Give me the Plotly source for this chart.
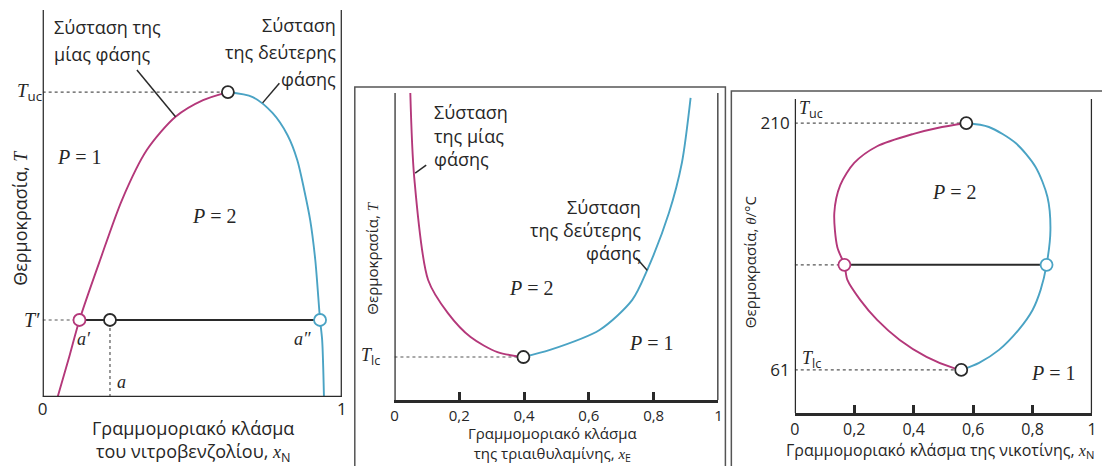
import plotly.graph_objects as go

W, H = 1102, 466

# ---- panel 1: nitrobenzene / hexane (upper critical temperature) ----
p1_liq1_x = [0.05, 0.086, 0.123, 0.192, 0.265, 0.348, 0.444, 0.536, 0.619]
p1_liq1_t = [0.0, 0.096, 0.199, 0.354, 0.509, 0.638, 0.724, 0.767, 0.788]
p1_liq2_x = [0.619, 0.702, 0.768, 0.818, 0.851, 0.874, 0.894, 0.911, 0.927, 0.934, 0.940]
p1_liq2_t = [0.788, 0.775, 0.734, 0.677, 0.612, 0.535, 0.457, 0.354, 0.199, 0.147, 0.0]
p1_crit = (0.619, 0.788)
p1_T_prime = 0.199
p1_a1, p1_a, p1_a2 = 0.123, 0.225, 0.927

# ---- panel 2: water / triethylamine (lower critical temperature) ----
p2_liq1_x = [0.049, 0.061, 0.104, 0.165, 0.235, 0.318, 0.398]
p2_liq1_t = [1.0, 0.726, 0.391, 0.283, 0.205, 0.156, 0.14]
p2_liq2_x = [0.398, 0.48, 0.633, 0.734, 0.78, 0.847, 0.887, 0.914]
p2_liq2_t = [0.14, 0.163, 0.228, 0.326, 0.423, 0.609, 0.772, 0.984]
p2_crit = (0.398, 0.14)
p2_ticks = [0, 0.2, 0.4, 0.6, 0.8, 1]
p2_ticktext = ["0", "0,2", "0,4", "0,6", "0,8", "1"]

# ---- panel 3: water / nicotine (closed miscibility loop) ----
p3_liq1_x = [0.577, 0.48, 0.40, 0.277, 0.2, 0.153, 0.133, 0.143, 0.167, 0.177,
             0.22, 0.277, 0.353, 0.443, 0.533, 0.56]
p3_liq1_t = [210, 207.0, 203.5, 196.0, 185.9, 172.5, 155.7, 135.2, 124.4, 115.3,
             103.3, 91.2, 79.1, 68.9, 62.2, 61]
p3_liq2_x = [0.577, 0.653, 0.743, 0.81, 0.85, 0.86, 0.847, 0.827, 0.8, 0.753,
             0.687, 0.62, 0.56]
p3_liq2_t = [210, 207.6, 197.9, 183.5, 165.4, 145.5, 124.4, 109.3, 97.2, 85.2,
             73.1, 65.3, 61]
p3_upper = (0.577, 210)
p3_lower = (0.56, 61)
p3_tie_t = 124.4
p3_tie_x = (0.167, 0.847)
p3_yticks = [61, 210]
p3_ticks = [0, 0.2, 0.4, 0.6, 0.8, 1]
p3_ticktext = ["0", "0,2", "0,4", "0,6", "0,8", "1"]

MAG = "#b4387a"
BLU = "#4aa3c4"
DARK = "#2a2a2a"
TXT = "#262626"
SANS = "Open Sans"
SERIF = "Liberation Serif"


def px(x):
    return x / W


def py(y):
    return 1 - y / H


fig = go.Figure()


def curve(x, y, color, ax):
    fig.add_trace(go.Scatter(x=x, y=y, mode="lines",
                             line=dict(color=color, width=1.9, shape="spline", smoothing=0.8),
                             xaxis=ax[0], yaxis=ax[1], hoverinfo="skip"))


def seg(x, y, ax, dash="solid", color=DARK, width=2):
    fig.add_trace(go.Scatter(x=x, y=y, mode="lines", line=dict(color=color, width=width, dash=dash),
                             xaxis=ax[0], yaxis=ax[1], hoverinfo="skip"))


def ring(x, y, color, ax):
    fig.add_trace(go.Scatter(x=[x], y=[y], mode="markers",
                             marker=dict(size=12, color="white", line=dict(color=color, width=1.8)),
                             xaxis=ax[0], yaxis=ax[1], hoverinfo="skip"))


A1, A2, A3 = ("x", "y"), ("x2", "y2"), ("x3", "y3")

# panel 1
seg([0, p1_crit[0]], [p1_crit[1]] * 2, A1, dash="dot", color="#555", width=1.2)
seg([0, p1_a1], [p1_T_prime] * 2, A1, dash="dot", color="#555", width=1.2)
seg([p1_a, p1_a], [0, p1_T_prime], A1, dash="dot", color="#555", width=1.2)
seg([p1_a1, p1_a2], [p1_T_prime] * 2, A1)
curve(p1_liq1_x, p1_liq1_t, MAG, A1)
curve(p1_liq2_x, p1_liq2_t, BLU, A1)
seg([0.315, 0.444], [0.845, 0.724], A1, width=1.5)
seg([0.791, 0.735], [0.811, 0.760], A1, width=1.5)
ring(p1_a1, p1_T_prime, MAG, A1)
ring(p1_a, p1_T_prime, DARK, A1)
ring(p1_a2, p1_T_prime, BLU, A1)
ring(p1_crit[0], p1_crit[1], DARK, A1)
for xv in (0, 1):
    seg([xv, xv], [0, 1], A1, width=2.5)
seg([0, 1], [0, 0], A1, width=2.5)

# panel 2
seg([0, p2_crit[0]], [p2_crit[1]] * 2, A2, dash="dot", color="#555", width=1.2)
curve(p2_liq1_x, p2_liq1_t, MAG, A2)
curve(p2_liq2_x, p2_liq2_t, BLU, A2)
seg([0.064, 0.098], [0.739, 0.765], A2, width=1.5)
seg([0.746, 0.78], [0.463, 0.423], A2, width=1.5)
ring(p2_crit[0], p2_crit[1], DARK, A2)
for xv in (0, 1):
    seg([xv, xv], [0, 1], A2, width=2.5)

# panel 3
seg([0, p3_upper[0]], [p3_upper[1]] * 2, A3, dash="dot", color="#555", width=1.2)
seg([0, p3_lower[0]], [p3_lower[1]] * 2, A3, dash="dot", color="#555", width=1.2)
seg([0, p3_tie_x[0]], [p3_tie_t] * 2, A3, dash="dot", color="#555", width=1.2)
seg(list(p3_tie_x), [p3_tie_t] * 2, A3)
curve(p3_liq1_x, p3_liq1_t, MAG, A3)
curve(p3_liq2_x, p3_liq2_t, BLU, A3)
ring(p3_upper[0], p3_upper[1], DARK, A3)
ring(p3_lower[0], p3_lower[1], DARK, A3)
ring(p3_tie_x[0], p3_tie_t, MAG, A3)
ring(p3_tie_x[1], p3_tie_t, BLU, A3)
for xv in (0, 1):
    seg([xv, xv], [35, 224.5], A3, width=2.5)

# frames around panels 2 and 3
shapes = [
    dict(type="rect", xref="paper", yref="paper", x0=px(353), x1=px(727), y0=py(475), y1=py(87),
         line=dict(color="#555", width=1.5)),
    dict(type="rect", xref="paper", yref="paper", x0=px(733), x1=px(1110), y0=py(475), y1=py(91),
         line=dict(color="#555", width=1.5)),
]

ann = []


def text(x, y, s, size=18, anchor="center", family=SANS, angle=0, ref=("paper", "paper"), valign="middle"):
    if ref == ("paper", "paper"):
        x, y = px(x), py(y)
    ann.append(dict(x=x, y=y, xref=ref[0], yref=ref[1], text=s, showarrow=False,
                    xanchor=anchor, yanchor=valign, textangle=angle, borderpad=0,
                    font=dict(family=family, size=size, color=TXT)))


def it(s):
    return f"<span style='font-family:{SERIF}'><i>{s}</i></span>"


def sub(s):
    return f"<sub><span style='font-family:{SANS}'>{s}</span></sub>"


# panel 1 texts
text(48, 27, "Σύσταση της", anchor="left")
text(48, 54, "μίας φάσης", anchor="left")
text(335, 25, "Σύσταση", anchor="right")
text(335, 52, "της δεύτερης", anchor="right")
text(335, 79, "φάσης", anchor="right")
text(75, 157, it("P") + " = 1", size=20, family=SERIF)
text(211, 216, it("P") + " = 2", size=20, family=SERIF)
text(25, 92, it("T") + sub("uc"), size=19, family=SERIF)
text(27, 320, it("T′"), size=20, family=SERIF)
text(0.139, 0.15, it("a′"), size=18, family=SERIF, ref=("x", "y"))
text(0.868, 0.15, it("a″"), size=18, family=SERIF, ref=("x", "y"))
text(0.262, 0.04, it("a"), size=18, family=SERIF, ref=("x", "y"))
text(15, 218, "Θερμοκρασία, " + it("T"), size=18, angle=-90)
text(190, 428, "Γραμμομοριακό κλάσμα", size=18)
text(190, 452, "του νιτροβενζολίου, " + it("x") + sub("N"), size=18)

# panel 2 texts
text(432, 112, "Σύσταση", size=18, anchor="left")
text(432, 136, "της μίας", size=18, anchor="left")
text(432, 159, "φάσης", size=18, anchor="left")
text(643, 207, "Σύσταση", size=18, anchor="right")
text(643, 230, "της δεύτερης", size=18, anchor="right")
text(643, 253, "φάσης", size=18, anchor="right")
text(531, 288, it("P") + " = 2", size=20, family=SERIF)
text(652, 343, it("P") + " = 1", size=20, family=SERIF)
text(369, 357, it("T") + sub("lc"), size=18, family=SERIF)
text(370, 258, "Θερμοκρασία, " + it("T"), size=15, angle=-90)
text(553, 466, "Γραμμομοριακό κλάσμα<br>της τριαιθυλαμίνης, " + it("x") + sub("E"),
     size=15, valign="bottom")

# panel 3 texts
text(800, 110, it("T") + sub("uc"), size=18, family=SERIF, anchor="left")
text(803, 360, it("T") + sub("lc"), size=18, family=SERIF, anchor="left")
text(958, 192, it("P") + " = 2", size=20, family=SERIF)
text(1058, 373, it("P") + " = 1", size=20, family=SERIF)
text(752, 262, "Θερμοκρασία, " + it("θ") + "/°C", size=15, angle=-90)
text(787, 450, "Γραμμομοριακό κλάσμα της νικοτίνης, " + it("x") + sub("N"), size=16, anchor="left")

axis_common = dict(showgrid=False, zeroline=False, showline=False,
                   tickfont=dict(family=SANS, size=17, color=TXT))
small_ticks = dict(family=SANS, size=16, color=TXT)
p2_tickfont = dict(family=SANS, size=15, color=TXT)

fig.update_layout(
    width=W, height=H, margin=dict(l=0, r=0, t=0, b=0),
    paper_bgcolor="white", plot_bgcolor="rgba(0,0,0,0)", showlegend=False,
    shapes=shapes, annotations=ann,
    xaxis=dict(domain=[px(38), px(340)], range=[0, 1], tickvals=[0, 1], ticktext=["0", "1"],
               ticks="", anchor="y", **axis_common),
    yaxis=dict(domain=[py(397), py(10)], range=[0, 1], showticklabels=False, ticks="",
               anchor="x", **axis_common),
    xaxis2=dict(domain=[px(393), px(720)], range=[0, 1], tickvals=p2_ticks, ticktext=p2_ticktext,
                ticks="inside", ticklen=8, tickwidth=2.5, tickcolor=DARK, anchor="y2",
                **{**axis_common, "showline": True, "linecolor": DARK, "linewidth": 2.5,
                   "tickfont": p2_tickfont}),
    yaxis2=dict(domain=[py(400), py(93)], range=[0, 1], showticklabels=False, ticks="",
                anchor="x2", **axis_common),
    xaxis3=dict(domain=[px(797), px(1097)], range=[0, 1], tickvals=p3_ticks, ticktext=p3_ticktext,
                ticks="inside", ticklen=8, tickwidth=2.5, tickcolor=DARK, anchor="y3",
                **{**axis_common, "showline": True, "linecolor": DARK, "linewidth": 2.5,
                   "tickfont": small_ticks}),
    yaxis3=dict(domain=[py(413), py(99)], range=[35, 224.5], tickvals=p3_yticks,
                ticktext=[str(v) for v in p3_yticks], ticks="", anchor="x3", ticklabelstandoff=4,
                **axis_common),
)

fig.write_html("out.html")
